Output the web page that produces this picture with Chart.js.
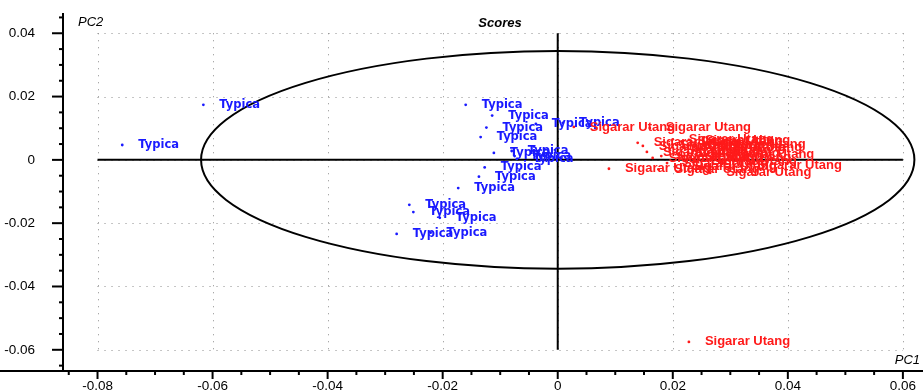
<!DOCTYPE html>
<html>
<head>
<meta charset="utf-8">
<script src="https://cdn.jsdelivr.net/npm/chart.js@4.4.1/dist/chart.umd.min.js"></script>
<style>
  html, body { margin: 0; padding: 0; background: #fff; }
  canvas { display: block; }
</style>
</head>
<body>
<canvas id="scores" width="923" height="391"></canvas>
<script>
// PCA scores, PC1 (x) vs PC2 (y)
const typicaX = [-0.0757, -0.0616, -0.0160, -0.0114, -0.0124, -0.0134, -0.0111, -0.0080, -0.0071, -0.0075,
                 -0.0127, -0.0137, -0.0173, -0.0258, -0.0251, -0.0205, -0.0280, -0.0221, -0.0038, 0.0009];
const typicaY = [0.0047, 0.0174, 0.0174, 0.0140, 0.0102, 0.0072, 0.0022, 0.0028, 0.0003, 0.0012,
                 -0.0024, -0.0053, -0.0089, -0.0142, -0.0165, -0.0183, -0.0234, -0.0230, 0.0114, 0.0117];

const sigararX = [0.0028, 0.0160, 0.0139, 0.0148, 0.0155, 0.0165, 0.0089, 0.0228, 0.0200, 0.0215,
                  0.0228, 0.0249, 0.0270, 0.0318, 0.0265, 0.0185, 0.0195, 0.0210, 0.0180, 0.0230,
                  0.0190, 0.0205, 0.0240, 0.0175, 0.0220, 0.0255];
const sigararY = [0.0104, 0.0101, 0.0054, 0.0044, 0.0025, 0.0006, -0.0028, -0.0575, 0.0065, 0.0058,
                  0.0063, 0.0038, 0.0016, -0.0019, -0.0041, 0.0045, 0.0030, 0.0020, 0.0012, 0.0008,
                  -0.0010, -0.0020, -0.0005, -0.0030, 0.0040, 0.0050];

const groupNames = ['Typica', 'Sigarar Utang'];
const xMajorTicks = [-0.08, -0.06, -0.04, -0.02, 0, 0.02, 0.04, 0.06];
const yMajorTicks = [0.04, 0.02, 0, -0.02, -0.04, -0.06];
// confidence ellipse half-axes (PC1, PC2)
const ellipseAxes = [0.062, 0.0344];

const toPoints = (xs, ys) => xs.map((v, i) => ({ x: v, y: ys[i] }));

function tickText(v) {
    if (Math.abs(v) < 1e-9) return '0';
    return v.toFixed(2);
}
function isMajor(v) {
    return Math.abs(Math.round(v / 0.005)) % 4 === 0;
}

const decor = {
    id: 'decor',
    beforeDatasetsDraw(chart) {
        const { ctx, scales: { x, y } } = chart;
        const left = x.getPixelForValue(xMajorTicks[0]);
        const right = x.getPixelForValue(xMajorTicks[xMajorTicks.length - 1]);
        const top = y.getPixelForValue(yMajorTicks[0]);
        const bottom = y.getPixelForValue(yMajorTicks[yMajorTicks.length - 1]);
        ctx.save();
        // dotted grid
        ctx.strokeStyle = '#8c8c8c';
        ctx.lineWidth = 1;
        ctx.setLineDash([1, 6]);
        xMajorTicks.forEach(v => {
            const px = Math.round(x.getPixelForValue(v)) + 0.5;
            ctx.beginPath(); ctx.moveTo(px, top); ctx.lineTo(px, bottom); ctx.stroke();
        });
        yMajorTicks.forEach(v => {
            const py = Math.round(y.getPixelForValue(v)) + 0.5;
            ctx.beginPath(); ctx.moveTo(left, py); ctx.lineTo(right, py); ctx.stroke();
        });
        ctx.setLineDash([]);
        // origin cross
        ctx.strokeStyle = '#000';
        ctx.lineWidth = 2;
        const ox = x.getPixelForValue(0), oy = y.getPixelForValue(0);
        ctx.beginPath(); ctx.moveTo(left, oy); ctx.lineTo(right, oy); ctx.stroke();
        ctx.beginPath(); ctx.moveTo(ox, top); ctx.lineTo(ox, bottom); ctx.stroke();
        // ellipse
        const rx = x.getPixelForValue(ellipseAxes[0]) - ox;
        const ry = oy - y.getPixelForValue(ellipseAxes[1]);
        ctx.beginPath();
        ctx.ellipse(ox, oy, rx, ry, 0, 0, 2 * Math.PI);
        ctx.stroke();
        ctx.restore();
    },
    afterDatasetsDraw(chart) {
        const { ctx } = chart;
        ctx.save();
        ctx.textBaseline = 'middle';
        chart.data.datasets.forEach((ds, i) => {
            ctx.fillStyle = ds.borderColor;
            ctx.font = i === 0 ? 'bold 11.5px "DejaVu Sans"' : 'bold 13px "Liberation Sans"';
            chart.getDatasetMeta(i).data.forEach(pt => {
                ctx.fillText(ds.label, pt.x + 16, pt.y);
            });
        });
        ctx.restore();
    },
    afterDraw(chart) {
        const { ctx, chartArea, scales: { x, y } } = chart;
        ctx.save();
        ctx.strokeStyle = '#000';
        ctx.lineWidth = 2;
        // axis lines
        ctx.beginPath(); ctx.moveTo(chartArea.left, chartArea.top); ctx.lineTo(chartArea.left, chartArea.bottom); ctx.stroke();
        ctx.beginPath(); ctx.moveTo(0, chartArea.bottom); ctx.lineTo(chart.width, chartArea.bottom); ctx.stroke();
        // tick marks
        x.ticks.forEach(t => {
            const px = x.getPixelForValue(t.value);
            const len = isMajor(t.value) ? 8 : 4;
            ctx.beginPath(); ctx.moveTo(px, chartArea.bottom); ctx.lineTo(px, chartArea.bottom + len); ctx.stroke();
        });
        y.ticks.forEach(t => {
            const py = y.getPixelForValue(t.value);
            const len = isMajor(t.value) ? 11 : 4;
            ctx.beginPath(); ctx.moveTo(chartArea.left, py); ctx.lineTo(chartArea.left - len, py); ctx.stroke();
        });
        // x tick labels
        ctx.fillStyle = '#000';
        ctx.font = '13.5px "Liberation Sans"';
        ctx.textAlign = 'center';
        ctx.textBaseline = 'top';
        x.ticks.forEach(t => {
            if (isMajor(t.value)) ctx.fillText(tickText(t.value), x.getPixelForValue(t.value), chartArea.bottom + 9);
        });
        // titles
        ctx.textBaseline = 'middle';
        ctx.font = 'italic 13px "Liberation Sans"';
        ctx.textAlign = 'left';
        ctx.fillText('PC2', 78, 22);
        ctx.textAlign = 'right';
        ctx.fillText('PC1', 920, 360);
        ctx.textAlign = 'center';
        ctx.font = 'italic bold 13px "Liberation Sans"';
        ctx.fillText('Scores', 500, 23);
        ctx.restore();
    }
};

new Chart(document.getElementById('scores'), {
    type: 'scatter',
    data: {
        datasets: [
            {
                label: groupNames[0],
                data: toPoints(typicaX, typicaY),
                borderColor: '#1a1aff',
                backgroundColor: '#1a1aff',
                pointRadius: 1.4,
                pointBorderWidth: 0
            },
            {
                label: groupNames[1],
                data: toPoints(sigararX, sigararY),
                borderColor: '#ff1a1a',
                backgroundColor: '#ff1a1a',
                pointRadius: 1.4,
                pointBorderWidth: 0
            }
        ]
    },
    options: {
        responsive: false,
        animation: false,
        devicePixelRatio: 1,
        layout: { padding: { top: 13, left: 0, right: 0, bottom: 0 } },
        plugins: {
            legend: { display: false },
            tooltip: { enabled: false }
        },
        scales: {
            x: {
                type: 'linear',
                min: -0.086,
                max: 0.0628,
                afterFit: s => { s.height = 20; s.paddingLeft = 0; s.paddingRight = 0; },
                grid: { display: false },
                border: { display: false },
                ticks: {
                    display: false,
                    stepSize: 0.005,
                    includeBounds: false,
                    autoSkip: false,
                    maxRotation: 0
                }
            },
            y: {
                type: 'linear',
                min: -0.0667,
                max: 0.0464,
                afterFit: s => { s.width = 63; s.paddingTop = 0; s.paddingBottom = 0; },
                grid: { display: false },
                border: { display: false },
                ticks: {
                    stepSize: 0.005,
                    includeBounds: false,
                    autoSkip: false,
                    padding: 20,
                    color: '#000',
                    font: { family: 'Liberation Sans', size: 13.5 },
                    callback: v => isMajor(v) ? tickText(v) : ''
                }
            }
        }
    },
    plugins: [decor]
});
</script>
</body>
</html>
